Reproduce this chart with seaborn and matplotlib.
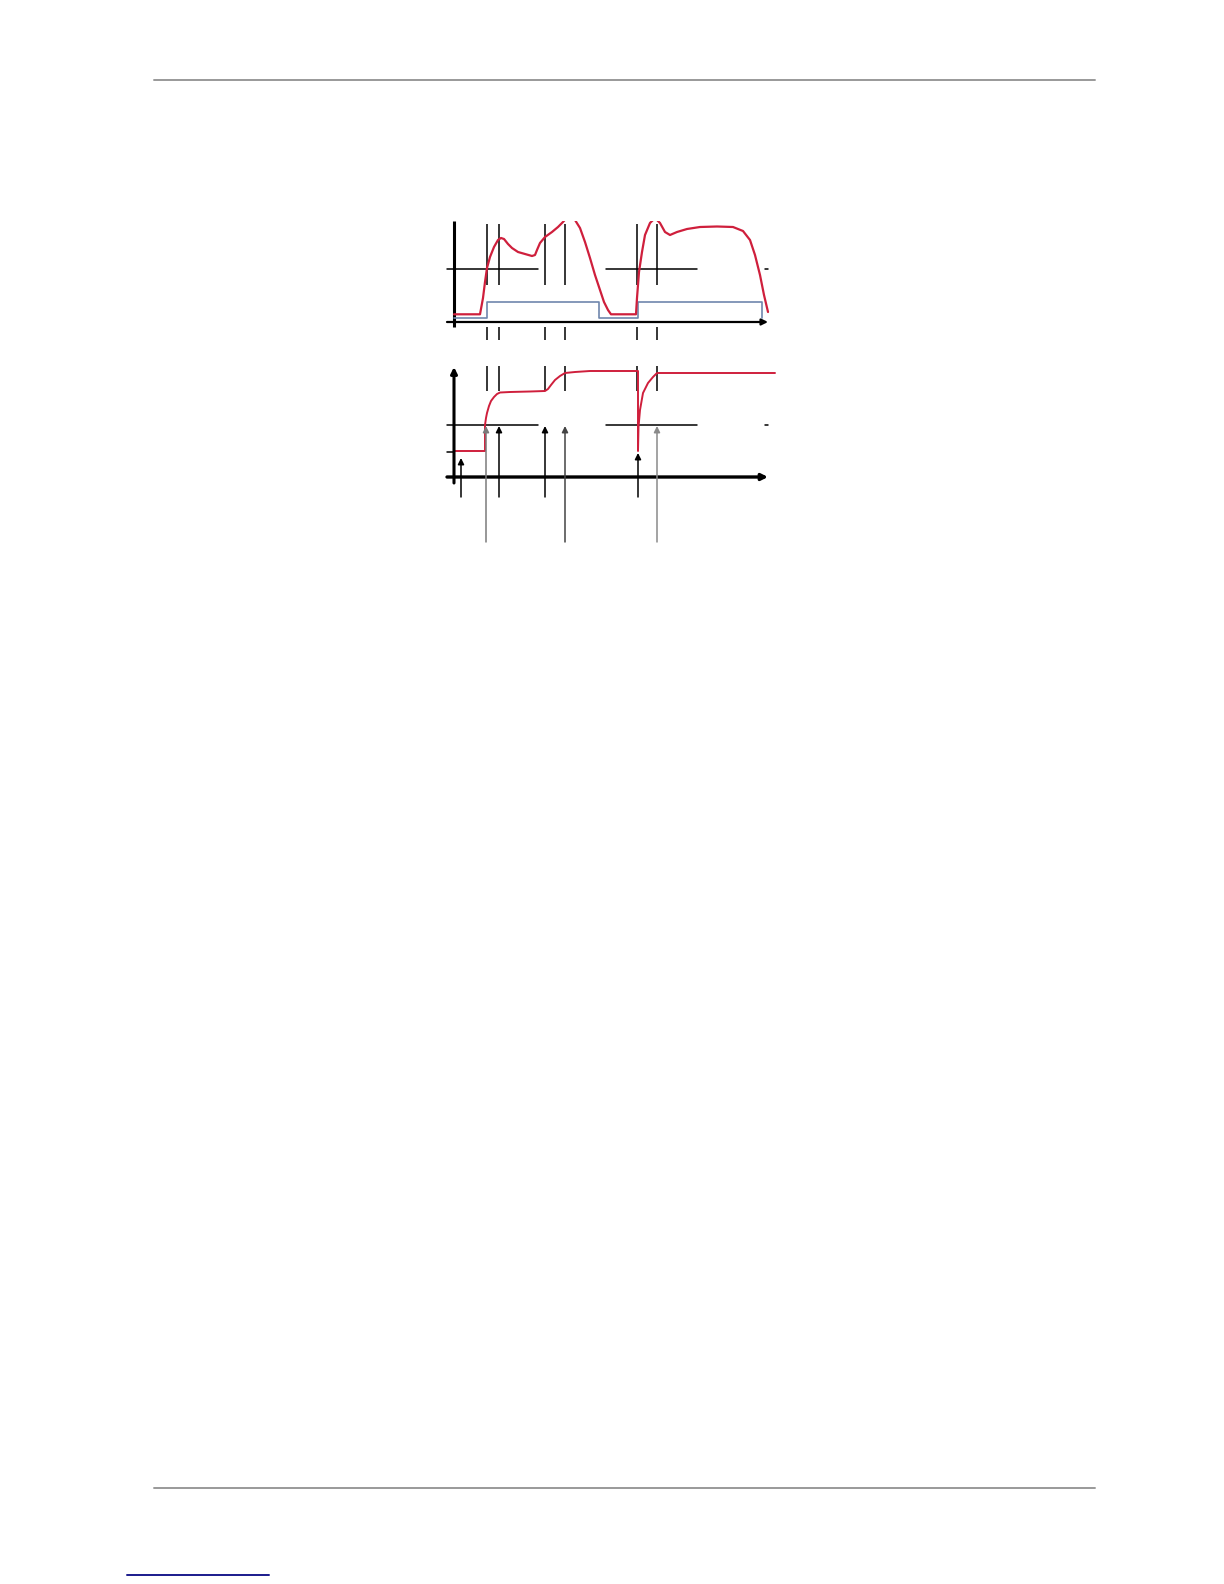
import numpy as np
import pandas as pd
import seaborn as sns
import matplotlib.pyplot as plt
from matplotlib.lines import Line2D

W, H = 1224, 1584

## DATA (time units, signal units)
# upper panel: red response curve
top_t = [0, 2.6, 2.9, 3.1, 3.3, 3.6, 4.0, 4.4, 4.7, 5.0, 5.4, 5.8, 6.4, 7.1, 7.8, 8.1,
         8.3, 8.6, 9.1, 9.8, 10.4, 10.9, 11.5, 11.8, 12.1, 12.6, 13.1, 13.6, 14.1, 14.6,
         15.0, 15.4, 15.7, 18.2, 18.3, 18.5, 18.8, 19.1, 19.6, 20.1, 20.6, 21.1, 21.6,
         22.3, 23.3, 24.6, 26.3, 27.9, 28.9, 29.6, 30.1, 30.6, 31.0, 31.4]
top_v = [0.77, 0.77, 2.4, 4.0, 5.4, 6.5, 7.5, 8.2, 8.4, 8.3, 7.8, 7.4, 7.0, 6.8, 6.6, 6.7,
         7.2, 7.9, 8.5, 9.0, 9.5, 10.0, 10.7, 10.9, 10.2, 9.4, 8.0, 6.4, 4.7, 3.2,
         2.0, 1.2, 0.77, 0.77, 2.4, 5.0, 7.0, 8.7, 9.9, 10.4, 9.9, 9.0, 8.7,
         9.0, 9.3, 9.5, 9.55, 9.5, 9.1, 8.2, 6.7, 4.7, 2.7, 1.0]

# upper panel: blue on/off signal
step_t = [0, 3.3, 3.3, 14.5, 14.5, 18.4, 18.4, 30.8, 30.8]
step_v = [0.37, 0.37, 1.97, 1.97, 0.37, 0.37, 1.97, 1.97, 0.37]

# lower panel: red response curve
low_t = [0, 3.1, 3.1, 3.2, 3.3, 3.5, 3.7, 4.0, 4.3, 4.6, 5.6, 7.6, 9.1, 9.4, 9.7, 10.1,
         10.6, 11.1, 12.1, 13.6, 18.4, 18.4, 18.45, 18.6, 18.9, 19.4, 19.9, 20.3, 32.1]
low_v = [2.6, 2.6, 5.2, 5.9, 6.4, 7.1, 7.6, 8.0, 8.3, 8.45, 8.5, 8.55, 8.6, 8.8, 9.2, 9.7,
         10.1, 10.4, 10.5, 10.6, 10.6, 2.6, 5.0, 6.7, 8.4, 9.4, 10.0, 10.4, 10.4]

# event markers
marker_t = [3.3, 4.5, 9.1, 11.1, 18.3, 20.3]

# lower panel arrows: time, start, tip, colour
arrow_t = [0.7, 3.2, 4.5, 9.1, 11.1, 18.4, 20.3]
arrow_start = [-2.0, -6.5, -2.0, -2.0, -6.5, -2.0, -6.5]
arrow_tip = [1.9, 5.1, 5.1, 5.1, 5.1, 2.4, 5.1]
arrow_col = ["black", "#7a7a7a", "black", "black", "#444444", "black", "#8a8a8a"]

threshold_top = 5.3
threshold_low = 5.2
level_low = 2.55

RED = "#cf1f3c"
BLUE = "#6f86ad"

sns.set_style("white")
fig = plt.figure(figsize=(W / 100, H / 100), dpi=100)


def px_axes(left, top, right, bottom):
    return fig.add_axes([left / W, 1 - bottom / H, (right - left) / W, (bottom - top) / H])


def arrow(ax, x0, y0, x1, y1, lw=1.1, color="black", ms=10):
    ax.annotate("", xy=(x1, y1), xytext=(x0, y0), annotation_clip=False,
                arrowprops=dict(arrowstyle="-|>", lw=lw, color=color,
                                mutation_scale=ms, shrinkA=0, shrinkB=0))


# ---------------------------
# UPPER PANEL
# ---------------------------
ax1 = px_axes(440, 221, 780, 345)
ax1.set_xlim(-1.4, 32.6)
ax1.set_ylim(-2.3, 10.1)
ax1.axis("off")

ax1.plot([0, 0], [10.1, -0.5], color="black", lw=2.2, clip_on=False, solid_capstyle="butt")
arrow(ax1, -0.7, 0, 31.4, 0, lw=1.6, ms=9)
for a, b in [(-0.7, 8.4), (15.2, 24.3), (31.1, 31.4)]:
    ax1.plot([a, b], [threshold_top, threshold_top], color="black", lw=1.1)
ax1.vlines(marker_t, 3.7, 9.8, color="black", lw=1.1)
ax1.vlines(marker_t, -1.8, -0.5, color="black", lw=1.1, clip_on=False)

sns.lineplot(x=step_t, y=step_v, sort=False, estimator=None, color=BLUE, lw=1.2, ax=ax1)
sns.lineplot(x=top_t, y=top_v, sort=False, estimator=None, color=RED, lw=1.6, ax=ax1)

# ---------------------------
# LOWER PANEL
# ---------------------------
ax2 = px_axes(440, 360, 780, 550)
ax2.set_xlim(-1.4, 32.6)
ax2.set_ylim(-7.3, 11.7)
ax2.axis("off")

ax2.vlines(marker_t, 8.6, 11.1, color="black", lw=1.1)
arrow(ax2, 0, -0.6, 0, 11.0, lw=2.2, ms=9)
arrow(ax2, -0.7, 0, 31.4, 0, lw=2.4, ms=9)
for a, b in [(-0.7, 8.4), (15.2, 24.3), (31.1, 31.4)]:
    ax2.plot([a, b], [threshold_low, threshold_low], color="black", lw=1.1)
ax2.plot([-0.7, 0], [level_low, level_low], color="black", lw=1.1)

sns.lineplot(x=low_t, y=low_v, sort=False, estimator=None, color=RED, lw=1.4, ax=ax2)

for t, s, e, c in zip(arrow_t, arrow_start, arrow_tip, arrow_col):
    arrow(ax2, t, s, t, e, lw=1.1, color=c, ms=9)

for ax in (ax1, ax2):
    if ax.get_legend():
        ax.get_legend().remove()

# page rules
for y in (80, 1488):
    fig.add_artist(Line2D([154 / W, 1095 / W], [1 - y / H, 1 - y / H], color="#999999", lw=1.4))
fig.add_artist(Line2D([127 / W, 269 / W], [1 - 1575 / H, 1 - 1575 / H], color="#1a1a8c", lw=1.4))

fig.savefig("out.png", dpi=100)
